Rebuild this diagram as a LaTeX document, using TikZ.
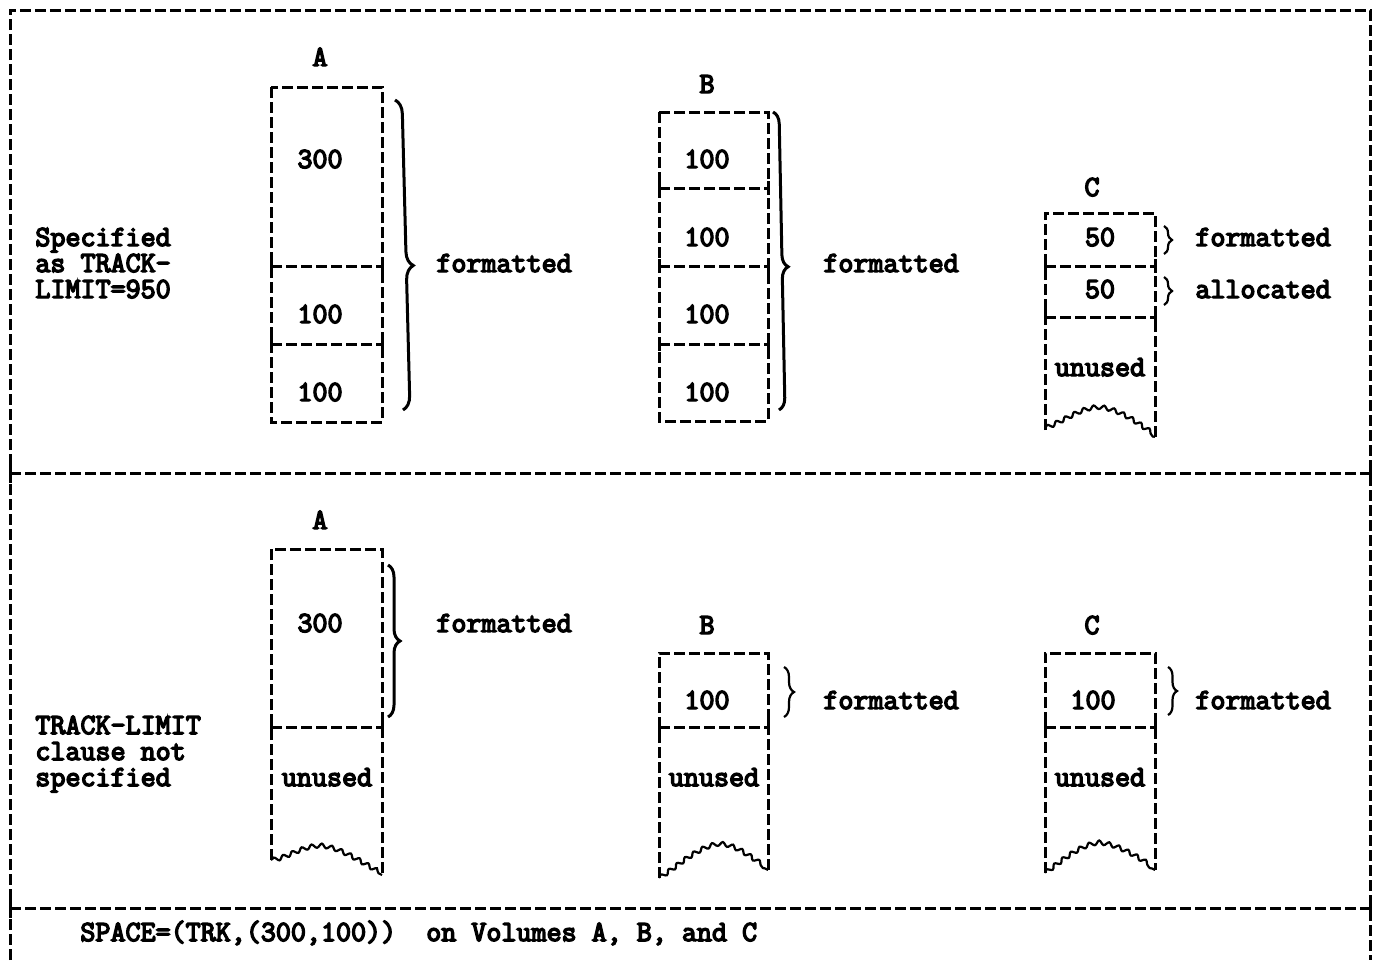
\documentclass[tikz,border=0pt]{standalone}
\usepackage{fontspec}
\newfontfamily\tmono{Latin Modern Mono}[FakeBold=5]
\usetikzlibrary{decorations.pathreplacing,decorations.pathmorphing}
\begin{document}
\begin{tikzpicture}[x=0.5pt,y=-0.5pt,
  dline/.style={line width=1.5pt,dash pattern=on 5.5pt off 2pt},
  tick/.style={line width=1.5pt},
  txt/.style={font=\tmono\fontsize{14.6}{13}\selectfont,inner sep=0pt,anchor=base,text height=9pt,text depth=2pt},
  ltxt/.style={txt,anchor=base west},
  mtxt/.style={font=\tmono\fontsize{14.6}{13}\selectfont,inner sep=0pt,align=left,anchor=base west},
  brc/.style={decorate,line width=1.5pt},
  wave/.style={decorate,decoration={snake,segment length=5pt,amplitude=1pt},line width=1.1pt}]
\useasboundingbox (0,0) rectangle (1380,960);
% outer frame
\coordinate (tl) at (10,10); \coordinate (tr) at (1370,10);
\coordinate (bl) at (10,960); \coordinate (br) at (1370,960);
\coordinate (d1l) at (10,473); \coordinate (d1r) at (1370,473);
\coordinate (d2l) at (10,908); \coordinate (d2r) at (1370,908);
\draw[dline] (bl) -- (tl) -- (tr) -- (br);
\draw[dline] (d1l) -- (d1r);
\draw[dline] (d2l) -- (d2r);
\foreach \p in {d1l,d1r,d2l,d2r} \draw[tick] ([yshift=-5pt]\p) -- ([yshift=5pt]\p);

% ---------- upper section ----------
% box A
\draw[dline] (271,87) rectangle (382,422);
\foreach \y in {266,344}{\draw[dline] (271,\y) -- (382,\y);
  \draw[tick] (271,\y-7) -- (271,\y+7); \draw[tick] (382,\y-7) -- (382,\y+7);}
\node[txt] (uAl) at (320,66) {A};
\node[txt] (uA1) at (320,168) {300};
\node[txt] (uA2) at (320,323) {100};
\node[txt] (uA3) at (320,401) {100};
\coordinate (uAbt) at (395,100); \coordinate (uAbb) at (403,410);
\draw[brc,decoration={brace,amplitude=7pt,aspect=0.535}] (uAbt) -- (uAbb);
\node[ltxt] (uAf) at (436,272) {formatted};
% box B
\draw[dline] (659,112) rectangle (768,421);
\foreach \y in {188,266,344}{\draw[dline] (659,\y) -- (768,\y);
  \draw[tick] (659,\y-7) -- (659,\y+7); \draw[tick] (768,\y-7) -- (768,\y+7);}
\node[txt] (uBl) at (707,93) {B};
\node[txt] (uB1) at (707,168) {100};
\node[txt] (uB2) at (707,246) {100};
\node[txt] (uB3) at (707,323) {100};
\node[txt] (uB4) at (707,401) {100};
\coordinate (uBbt) at (773,112); \coordinate (uBbb) at (779,410);
\draw[brc,decoration={brace,amplitude=6pt,aspect=0.52}] (uBbt) -- (uBbb);
\node[ltxt] (uBf) at (823,272) {formatted};
% box C
\draw[dline] (1045,430) -- (1045,213) -- (1155,213) -- (1155,437);
\foreach \y in {266,317}{\draw[dline] (1045,\y) -- (1155,\y);
  \draw[tick] (1045,\y-7) -- (1045,\y+7); \draw[tick] (1155,\y-7) -- (1155,\y+7);}
\coordinate (uCwl) at (1045,428); \coordinate (uCwp) at (1097,408); \coordinate (uCwr) at (1155,437);
\draw[wave] (uCwl) .. controls (1065,420) and (1080,408) .. (uCwp) .. controls (1120,410) and (1140,428) .. (uCwr);
\node[txt] (uCl) at (1092,196) {C};
\node[txt] (uC1) at (1100,246) {50};
\node[txt] (uC2) at (1100,298) {50};
\node[txt] (uC3) at (1100,376) {unused};
\coordinate (uC1t) at (1164,226); \coordinate (uC1b) at (1164,254);
\coordinate (uC2t) at (1164,277); \coordinate (uC2b) at (1164,305);
\draw[brc,line width=1.1pt,decoration={brace,amplitude=4pt}] (uC1t) -- (uC1b);
\draw[brc,line width=1.1pt,decoration={brace,amplitude=4pt}] (uC2t) -- (uC2b);
\node[ltxt] (uCf) at (1195,246) {formatted};
\node[ltxt] (uCa) at (1195,298) {allocated};
% left label
\node[mtxt] (uL) at (35,298) {Specified\\as TRACK-\\LIMIT=950};

% ---------- lower section ----------
% box A
\draw[dline] (271,860) -- (271,549) -- (382,549) -- (382,875);
\draw[dline] (271,727) -- (382,727);
\draw[tick] (271,720) -- (271,734); \draw[tick] (382,720) -- (382,734);
\coordinate (lAwl) at (271,860); \coordinate (lAwp) at (318,846); \coordinate (lAwr) at (382,875);
\draw[wave] (lAwl) .. controls (285,858) and (300,846) .. (lAwp) .. controls (340,848) and (362,865) .. (lAwr);
\node[txt] (lAl) at (320,529) {A};
\node[txt] (lA1) at (320,632) {300};
\node[txt] (lA2) at (327,786) {unused};
\coordinate (lAbt) at (388,565); \coordinate (lAbb) at (388,717);
\draw[brc,decoration={brace,amplitude=6pt}] (lAbt) -- (lAbb);
\node[ltxt] (lAf) at (436,632) {formatted};
% box B
\draw[dline] (659,878) -- (659,653) -- (768,653) -- (768,870);
\draw[dline] (659,727) -- (768,727);
\draw[tick] (659,720) -- (659,734); \draw[tick] (768,720) -- (768,734);
\coordinate (lBwl) at (659,878); \coordinate (lBwp) at (717,845); \coordinate (lBwr) at (768,870);
\draw[wave] (lBwl) .. controls (675,868) and (695,848) .. (lBwp) .. controls (735,845) and (752,862) .. (lBwr);
\node[txt] (lBl) at (707,634) {B};
\node[txt] (lB1) at (707,709) {100};
\node[txt] (lB2) at (714,786) {unused};
\coordinate (lBbt) at (784,667); \coordinate (lBbb) at (784,717);
\draw[brc,line width=1.1pt,decoration={brace,amplitude=5pt}] (lBbt) -- (lBbb);
\node[ltxt] (lBf) at (823,709) {formatted};
% box C
\draw[dline] (1045,873) -- (1045,653) -- (1155,653) -- (1155,870);
\draw[dline] (1045,727) -- (1155,727);
\draw[tick] (1045,720) -- (1045,734); \draw[tick] (1155,720) -- (1155,734);
\coordinate (lCwl) at (1045,873); \coordinate (lCwp) at (1097,844); \coordinate (lCwr) at (1155,870);
\draw[wave] (lCwl) .. controls (1060,862) and (1078,846) .. (lCwp) .. controls (1120,846) and (1140,862) .. (lCwr);
\node[txt] (lCl) at (1092,634) {C};
\node[txt] (lC1) at (1093,709) {100};
\node[txt] (lC2) at (1100,786) {unused};
\coordinate (lCbt) at (1168,667); \coordinate (lCbb) at (1168,715);
\draw[brc,line width=1.1pt,decoration={brace,amplitude=4.5pt}] (lCbt) -- (lCbb);
\node[ltxt] (lCf) at (1195,709) {formatted};
% left label
\node[mtxt] (lL) at (35,786) {TRACK-LIMIT\\clause not\\specified};

% bottom line
\node[ltxt] (sp) at (80,941) {SPACE=(TRK,(300,100))\ \ on Volumes A, B, and C};
\end{tikzpicture}
\end{document}
